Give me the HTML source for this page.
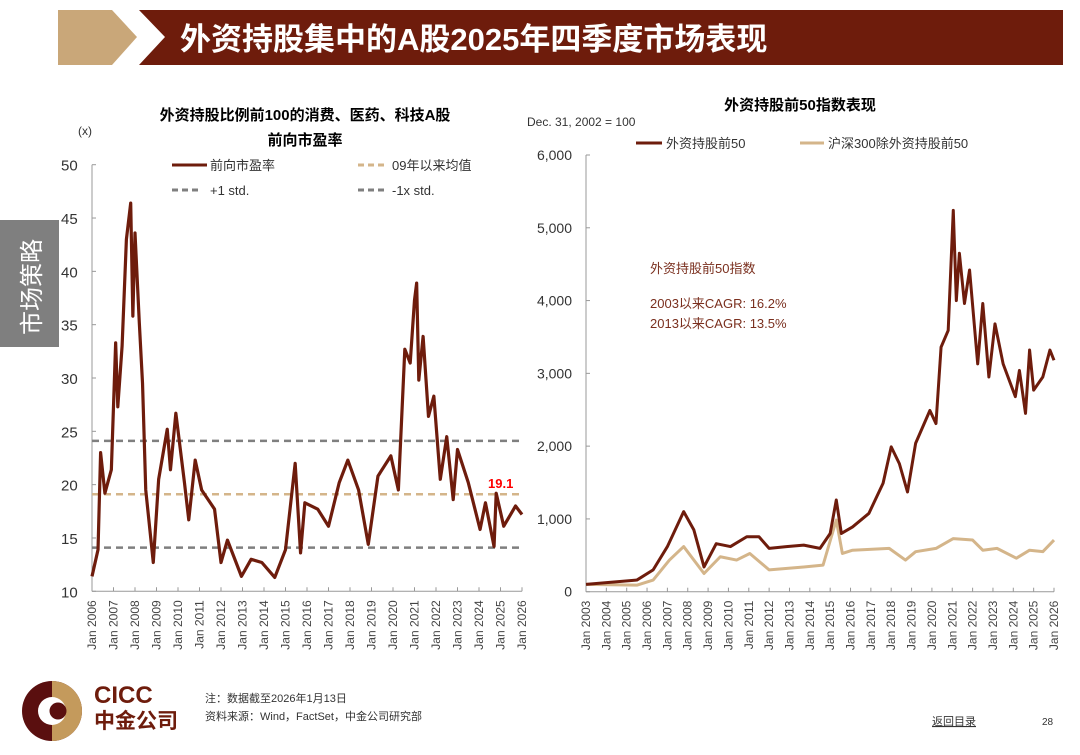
<!DOCTYPE html>
<html><head><meta charset="utf-8">
<style>
body{margin:0;width:1080px;height:755px;background:#fff;overflow:hidden;font-family:"Liberation Sans","Noto Sans CJK SC",sans-serif;}
svg{position:absolute;left:0;top:0}
</style></head>
<body>
<svg width="1080" height="755" viewBox="0 0 1080 755">
<g>
<polygon points="58,10 112,10 137,37 112,65 58,65" fill="#c9a779"/>
<polygon points="139,10 1063,10 1063,65 139,65 165,37" fill="#6e1c0c"/>
<text x="180" y="50" fill="#fff" font-size="31" font-weight="bold" font-family="Liberation Sans, Noto Sans CJK SC, sans-serif">外资持股集中的A股2025年四季度市场表现</text>
</g>
<rect x="0" y="220" width="59" height="127" fill="#7f7f7f"/>
<text transform="translate(40,335) rotate(-90)" fill="#fff" font-size="24">市场策略</text>

<g>
<text x="305" y="120" text-anchor="middle" font-size="15" font-weight="bold" fill="#000">外资持股比例前100的消费、医药、科技A股</text>
<text x="305" y="145" text-anchor="middle" font-size="15" font-weight="bold" fill="#000">前向市盈率</text>
<text x="78" y="135" font-size="12" fill="#333">(x)</text>
<g id="leftAxes"></g>
<g>
<line x1="172" y1="165" x2="207" y2="165" stroke="#6e1c0c" stroke-width="3"/>
<text x="210" y="170" font-size="13" fill="#333">前向市盈率</text>
<line x1="358" y1="165" x2="386" y2="165" stroke="#d4b58a" stroke-width="3" stroke-dasharray="6,4"/>
<text x="392" y="170" font-size="13" fill="#333">09年以来均值</text>
<line x1="172" y1="190" x2="200" y2="190" stroke="#7f7f7f" stroke-width="3" stroke-dasharray="6,4"/>
<text x="210" y="195" font-size="13" fill="#333">+1 std.</text>
<line x1="358" y1="190" x2="386" y2="190" stroke="#7f7f7f" stroke-width="3" stroke-dasharray="6,4"/>
<text x="392" y="195" font-size="13" fill="#333">-1x std.</text>
</g>
<text x="488" y="488" font-size="13" font-weight="bold" fill="#ff0000">19.1</text>
</g>

<g>
<text x="800" y="110" text-anchor="middle" font-size="15" font-weight="bold" fill="#000">外资持股前50指数表现</text>
<text x="527" y="126" font-size="12" fill="#333">Dec. 31, 2002 = 100</text>
<g id="rightAxes"></g>
<g>
<line x1="636" y1="143" x2="662" y2="143" stroke="#6e1c0c" stroke-width="3"/>
<text x="666" y="148" font-size="13" fill="#333">外资持股前50</text>
<line x1="800" y1="143" x2="824" y2="143" stroke="#d4b58a" stroke-width="3"/>
<text x="828" y="148" font-size="13" fill="#333">沪深300除外资持股前50</text>
</g>
<text x="650" y="273" font-size="13" fill="#7a2f1e">外资持股前50指数</text>
<text x="650" y="308" font-size="13" fill="#7a2f1e">2003以来CAGR: 16.2%</text>
<text x="650" y="328" font-size="13" fill="#7a2f1e">2013以来CAGR: 13.5%</text>
</g>

<g>
<circle cx="52" cy="711" r="30" fill="#5a0f0f"/>
<path d="M52,681 A30,30 0 0 1 52,741 Z" fill="#c49a5c"/>
<circle cx="52" cy="711" r="14" fill="#fff"/>
<circle cx="58" cy="711" r="8.5" fill="#5a0f0f"/>
<text x="94" y="703" font-size="24" font-weight="bold" fill="#6e1c0c">CICC</text>
<text x="94" y="728" font-size="21" font-weight="bold" fill="#6e1c0c">中金公司</text>
</g>
<text x="205" y="702" font-size="11" fill="#333">注：数据截至2026年1月13日</text>
<text x="205" y="720" font-size="11" fill="#333">资料来源：Wind，FactSet，中金公司研究部</text>
<text x="932" y="725" font-size="11" fill="#333" text-decoration="underline">返回目录</text>
<text x="1042" y="725" font-size="10" fill="#333">28</text>
</svg>
<script>
const peYears=[2006.0,2006.28,2006.4,2006.6,2006.9,2007.1,2007.2,2007.4,2007.6,2007.8,2007.9,2008.0,2008.2,2008.35,2008.5,2008.85,2009.1,2009.5,2009.65,2009.9,2010.3,2010.5,2010.8,2011.1,2011.5,2011.7,2012.0,2012.3,2012.95,2013.4,2013.9,2014.5,2015.0,2015.45,2015.7,2015.9,2016.5,2017.0,2017.5,2017.9,2018.4,2018.85,2019.3,2019.9,2020.25,2020.55,2020.8,2021.0,2021.1,2021.2,2021.4,2021.65,2021.9,2022.2,2022.5,2022.8,2023.0,2023.5,2024.05,2024.3,2024.7,2024.8,2025.15,2025.7,2026.0];
const peValues=[11.4,13.9,23,19.2,21.4,33.3,27.3,33,43,46.4,35.8,43.6,35.2,29.5,19.5,12.7,20.5,25.2,21.4,26.7,20.2,16.7,22.3,19.5,18.3,17.7,12.7,14.8,11.4,13,12.7,11.3,13.9,22,13.6,18.3,17.7,16.1,20.2,22.3,19.5,14.4,20.8,22.7,19.5,32.7,31.4,37.3,38.9,29.8,33.9,26.4,28.3,20.5,24.5,18.6,23.3,20.2,15.8,18.3,14.2,19.2,16.1,18,17.2];
const peMean=19.1, pePlusStd=24.1, peMinusStd=14.1;
const peTicks=[10,15,20,25,30,35,40,45,50];
const leftXTicks=[2006,2007,2008,2009,2010,2011,2012,2013,2014,2015,2016,2017,2018,2019,2020,2021,2022,2023,2024,2025,2026];
const idxYears=[2003.0,2005.5,2006.3,2007.0,2007.8,2008.3,2008.8,2009.4,2010.1,2010.9,2011.5,2012.0,2012.85,2013.7,2014.5,2015.0,2015.3,2015.55,2016.1,2016.9,2017.6,2018.0,2018.4,2018.8,2019.2,2019.9,2020.2,2020.45,2020.8,2021.05,2021.2,2021.35,2021.6,2021.85,2022.25,2022.5,2022.8,2023.1,2023.5,2024.1,2024.3,2024.6,2024.8,2025.0,2025.45,2025.8,2026.0];
const top50Values=[100,160,300,620,1100,850,340,660,620,755,755,595,620,640,595,800,1260,800,890,1075,1490,1990,1760,1370,2040,2490,2310,3360,3590,5240,4000,4650,3960,4420,3130,3960,2950,3680,3130,2680,3040,2450,3320,2770,2950,3320,3180];
const exYears=[2003.0,2005.5,2006.3,2007.1,2007.8,2008.8,2009.6,2010.4,2011.05,2012.0,2013.7,2014.65,2015.3,2015.6,2016.1,2017.9,2018.7,2019.2,2020.2,2021.05,2022.0,2022.5,2023.2,2024.15,2024.8,2025.45,2026.0];
const exValues=[100,90,160,435,620,250,480,435,525,300,340,365,985,525,570,595,435,550,595,730,710,570,595,460,570,550,710];
const idxTicks=[0,1000,2000,3000,4000,5000,6000];
const idxTickLabels=["0","1,000","2,000","3,000","4,000","5,000","6,000"];
const rightXTicks=[2003,2004,2005,2006,2007,2008,2009,2010,2011,2012,2013,2014,2015,2016,2017,2018,2019,2020,2021,2022,2023,2024,2025,2026];

const NS="http://www.w3.org/2000/svg";
function mk(tag,attrs,parent,txt){const e=document.createElementNS(NS,tag);for(const k in attrs)e.setAttribute(k,attrs[k]);if(txt!==undefined)e.textContent=txt;parent.appendChild(e);return e;}

const L={x0:92,x1:522,y0:591.3,y1:164.7,ymin:10,ymax:50,xmin:2006,xmax:2026};
const lx=v=>L.x0+(v-L.xmin)/(L.xmax-L.xmin)*(L.x1-L.x0);
const ly=v=>L.y0-(v-L.ymin)/(L.ymax-L.ymin)*(L.y0-L.y1);
const lg=document.getElementById('leftAxes');
mk('line',{x1:L.x0,y1:ly(50),x2:L.x0,y2:L.y0,stroke:'#999'},lg);
mk('line',{x1:L.x0,y1:L.y0,x2:L.x1,y2:L.y0,stroke:'#999'},lg);
peTicks.forEach(t=>{
  mk('line',{x1:L.x0,y1:ly(t),x2:L.x0+4,y2:ly(t),stroke:'#999'},lg);
  const e=mk('text',{x:61,y:ly(t)+6,'font-size':15,fill:'#333'},lg,String(t));
  
  
});
leftXTicks.forEach(t=>{
  mk('line',{x1:lx(t),y1:L.y0,x2:lx(t),y2:L.y0-4,stroke:'#999'},lg);
  const e=mk('text',{transform:`translate(${lx(t)+4},${L.y0+9}) rotate(-90)`,'text-anchor':'end','font-size':12,fill:'#444'},lg,'Jan '+t);
  
  
});
[[pePlusStd,'#7f7f7f','plus-std-line'],[peMinusStd,'#7f7f7f','minus-std-line'],[peMean,'#d4b58a','mean-line']].forEach(([v,c,n])=>{
  const e=mk('line',{x1:L.x0,y1:ly(v),x2:L.x1,y2:ly(v),stroke:c,'stroke-width':2.5,'stroke-dasharray':'7,5'},lg);
  
  
});
const pe=mk('polyline',{points:peYears.map((y,i)=>lx(y)+','+ly(peValues[i])).join(' '),fill:'none',stroke:'#6e1c0c','stroke-width':3.2,'stroke-linejoin':'round'},lg);



const R={x0:586,x1:1054,y0:591.7,y1:155,ymin:0,ymax:6000,xmin:2003,xmax:2026};
const rx=v=>R.x0+(v-R.xmin)/(R.xmax-R.xmin)*(R.x1-R.x0);
const ry=v=>R.y0-(v-R.ymin)/(R.ymax-R.ymin)*(R.y0-R.y1);
const rg=document.getElementById('rightAxes');
mk('line',{x1:R.x0,y1:R.y1,x2:R.x0,y2:R.y0,stroke:'#999'},rg);
mk('line',{x1:R.x0,y1:R.y0,x2:R.x1,y2:R.y0,stroke:'#999'},rg);
idxTicks.forEach((t,i)=>{
  mk('line',{x1:R.x0,y1:ry(t),x2:R.x0+4,y2:ry(t),stroke:'#999'},rg);
  const e=mk('text',{x:572,y:ry(t)+5,'text-anchor':'end','font-size':14,fill:'#333'},rg,idxTickLabels[i]);
  
  
});
rightXTicks.forEach(t=>{
  mk('line',{x1:rx(t),y1:R.y0,x2:rx(t),y2:R.y0-4,stroke:'#999'},rg);
  const e=mk('text',{transform:`translate(${rx(t)+4},${R.y0+9}) rotate(-90)`,'text-anchor':'end','font-size':12,fill:'#444'},rg,'Jan '+t);
  
  
});
const ex=mk('polyline',{points:exYears.map((y,i)=>rx(y)+','+ry(exValues[i])).join(' '),fill:'none',stroke:'#d4b58a','stroke-width':3,'stroke-linejoin':'round'},rg);


const tp=mk('polyline',{points:idxYears.map((y,i)=>rx(y)+','+ry(top50Values[i])).join(' '),fill:'none',stroke:'#6e1c0c','stroke-width':3,'stroke-linejoin':'round'},rg);


</script>
</body></html>
